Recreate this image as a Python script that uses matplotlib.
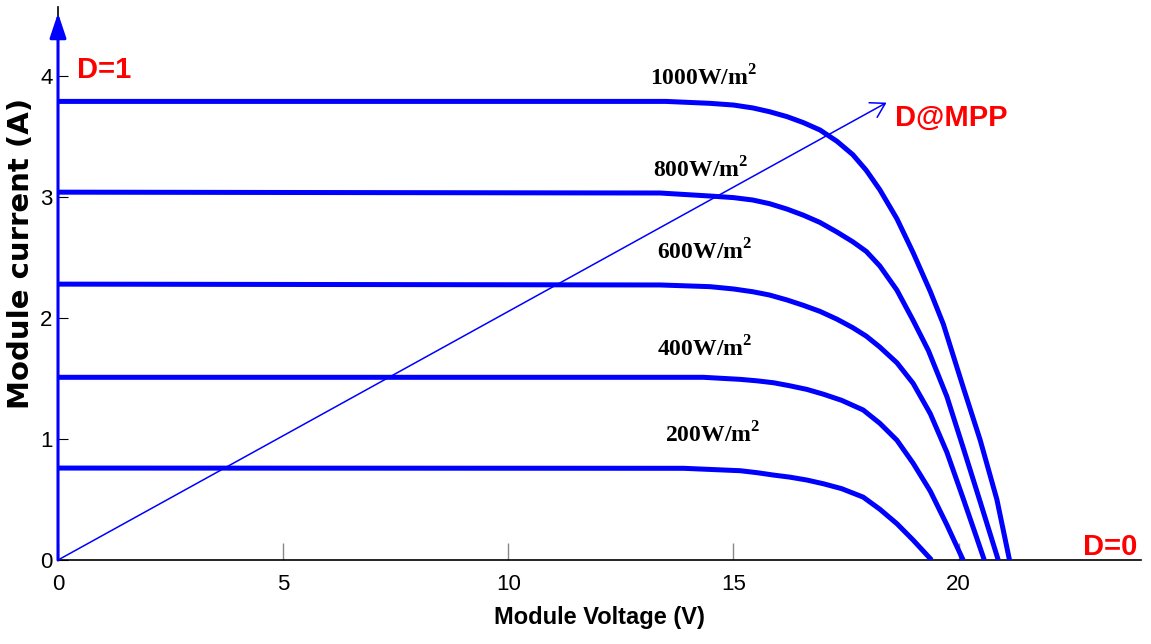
"""I-V curves of a PV module at several irradiance levels, with duty-cycle sweep arrows."""
import matplotlib
matplotlib.use("Agg")
import matplotlib.pyplot as plt  # noqa: E402
from matplotlib import font_manager  # noqa: E402

# values (V, A)
v_1000 = [0, 13.50, 14.48, 15.00, 15.43, 15.80, 16.19, 16.55, 16.92, 17.30, 17.65, 17.95, 18.25, 18.63,
          18.99, 19.37, 19.66, 20.10, 20.48, 20.85, 21.13]
i_1000 = [3.79, 3.79, 3.774, 3.76, 3.736, 3.705, 3.664, 3.615, 3.554, 3.46, 3.35, 3.22, 3.06, 2.82,
          2.54, 2.22, 1.95, 1.43, 0.99, 0.50, 0]

v_800 = [0, 13.37, 14.48, 15.00, 15.43, 15.80, 16.19, 16.55, 16.92, 17.30, 17.65, 17.95, 18.25, 18.63,
         18.99, 19.33, 19.74, 20.10, 20.48, 20.88]
i_800 = [3.04, 3.033, 3.008, 2.995, 2.975, 2.945, 2.90, 2.85, 2.79, 2.71, 2.63, 2.55, 2.43, 2.23,
         1.98, 1.73, 1.35, 0.93, 0.48, 0]

v_600 = [0, 13.37, 14.48, 15.00, 15.43, 15.80, 16.19, 16.55, 16.92, 17.30, 17.65, 17.95, 18.25, 18.63,
         18.99, 19.37, 19.74, 20.10, 20.35, 20.57]
i_600 = [2.28, 2.273, 2.259, 2.24, 2.217, 2.19, 2.149, 2.105, 2.055, 1.99, 1.92, 1.85, 1.76, 1.63,
         1.46, 1.21, 0.89, 0.51, 0.24, 0]

v_400 = [0, 14.33, 15.15, 15.52, 15.89, 16.25, 16.63, 17.00, 17.40, 17.88, 18.25, 18.63, 18.99, 19.37,
         19.74, 20.10]
i_400 = [1.51, 1.510, 1.493, 1.481, 1.465, 1.44, 1.41, 1.37, 1.32, 1.24, 1.13, 0.99, 0.80, 0.57,
         0.29, 0]

v_200 = [0, 13.89, 15.15, 15.52, 15.89, 16.25, 16.63, 17.00, 17.40, 17.88, 18.25, 18.63, 18.99, 19.40]
i_200 = [0.76, 0.758, 0.738, 0.722, 0.702, 0.685, 0.661, 0.63, 0.59, 0.52, 0.42, 0.30, 0.165, 0]

curves = [(v_1000, i_1000), (v_800, i_800), (v_600, i_600), (v_400, i_400), (v_200, i_200)]
irr_labels = ["1000W/m$^2$", "800W/m$^2$", "600W/m$^2$", "400W/m$^2$", "200W/m$^2$"]
irr_label_pos = [(13.15, 3.92), (13.21, 3.165), (13.30, 2.48), (13.30, 1.68), (13.48, 0.97)]

mpp_tip = (18.4, 3.78)
d1_tip = (0, 4.52)
x_ticks = [0, 5, 10, 15, 20]
y_ticks = [0, 1, 2, 3, 4]


def _font(name, fallback):
    try:
        font_manager.findfont(name, fallback_to_default=False)
        return name
    except ValueError:
        return fallback


narrow = _font("Liberation Sans Narrow", "Liberation Sans")

plt.rcParams["mathtext.fontset"] = "custom"
plt.rcParams["mathtext.rm"] = "Liberation Serif:bold"
plt.rcParams["mathtext.bf"] = "Liberation Serif:bold"

fig = plt.figure(figsize=(11.51, 6.44), dpi=100)
ax = fig.add_axes([0.0504, 0.1304, 0.9409, 0.8587])

for v, i in curves:
    ax.plot(v, i, color="#0000ff", lw=3.6, solid_capstyle="butt", solid_joinstyle="round", zorder=3)

for lab, (x, y) in zip(irr_labels, irr_label_pos):
    ax.text(x, y, lab, family="Liberation Serif", weight="bold", fontsize=17,
            ha="left", va="baseline")

# D=1 arrow up the current axis, MPP arrow across the curves
ax.annotate("", xy=d1_tip, xytext=(0, 0),
            arrowprops=dict(arrowstyle="-|>,head_length=0.6,head_width=0.2", color="#0000ff",
                            lw=2.2, mutation_scale=25, shrinkA=0, shrinkB=0), zorder=4)
ax.annotate("", xy=mpp_tip, xytext=(0, 0),
            arrowprops=dict(arrowstyle="->,head_length=0.5,head_width=0.3", color="#0000ff",
                            lw=1.1, mutation_scale=20, shrinkA=0, shrinkB=0), zorder=4)

red = dict(family=narrow, weight="bold", fontsize=21, color="#ff0000", va="baseline")
ax.text(0.42, 3.98, "D=1", ha="left", **red)
ax.text(18.59, 3.59, "D@MPP", ha="left", **red)
ax.text(23.98, 0.04, "D=0", ha="right", **red)

ax.set_xlim(0, 24.05)
ax.set_ylim(0, 4.57)
ax.spines["top"].set_visible(False)
ax.spines["right"].set_visible(False)
for s in ("left", "bottom"):
    ax.spines[s].set_linewidth(1.2)

ax.set_xticks(x_ticks)
ax.set_yticks(y_ticks)
ax.tick_params(axis="x", direction="in", length=12, width=1, color="#888888", pad=10)
ax.tick_params(axis="y", direction="in", length=7, width=0.8, color="black", pad=4)
for t in ax.get_xticklabels() + ax.get_yticklabels():
    t.set_family(narrow)
    t.set_fontsize(16)

ax.set_xlabel("Module Voltage (V)", family=narrow, weight="bold", fontsize=17)
ax.xaxis.set_label_coords(0.5, -0.083)
ax.set_ylabel("Module current (A)", family="DejaVu Sans", weight="bold", fontsize=21)
ax.yaxis.set_label_coords(-0.021, 0.555)

fig.savefig("out.png", dpi=100)
plt.close(fig)
